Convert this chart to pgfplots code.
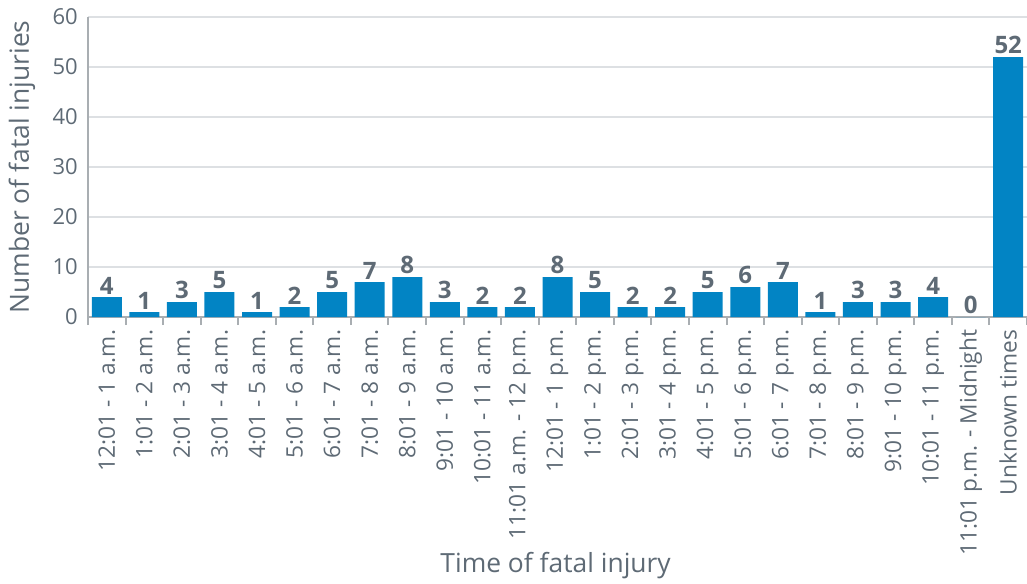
\documentclass[border=0pt]{standalone}
\usepackage{fontspec}
\setmainfont{Open Sans}
\usepackage{pgfplots}
\pgfplotsset{compat=1.18}
\definecolor{barblue}{HTML}{0284C4}
\definecolor{txtgray}{HTML}{5E6A75}
\definecolor{gridgray}{HTML}{DDE0E3}
\definecolor{axgray}{HTML}{A9AEB2}
\begin{document}
\begin{tikzpicture}
\useasboundingbox (-66pt,-199.5pt) rectangle (704.25pt,237.75pt);
\begin{axis}[
    scale only axis,
    width=704.25pt,
    height=225pt,
    ybar,
    bar width=22.5pt,
    bar shift=0pt,
    xmin=-0.5, xmax=24.5,
    ymin=0, ymax=60,
    enlargelimits=false,
    axis x line*=bottom,
    axis y line*=left,
    axis line style={axgray, line width=1.5pt},
    ytick={0,10,...,60},
    ymajorgrids,
    grid style={gridgray, line width=1.2pt},
    major tick length=0pt,
    xtick=data,
    xticklabels={12:01 - 1 a.m., 1:01 - 2 a.m., 2:01 - 3 a.m., 3:01 - 4 a.m., 4:01 - 5 a.m., 5:01 - 6 a.m., 6:01 - 7 a.m., 7:01 - 8 a.m., 8:01 - 9 a.m., 9:01 - 10 a.m., 10:01 - 11 a.m., 11:01 a.m. - 12 p.m., 12:01 - 1 p.m., 1:01 - 2 p.m., 2:01 - 3 p.m., 3:01 - 4 p.m., 4:01 - 5 p.m., 5:01 - 6 p.m., 6:01 - 7 p.m., 7:01 - 8 p.m., 8:01 - 9 p.m., 9:01 - 10 p.m., 10:01 - 11 p.m., 11:01 p.m. - Midnight, Unknown times},
    extra x ticks={-0.5,0.5,...,24.5},
    extra x tick labels={},
    extra x tick style={grid=none, major tick length=6pt, tick align=outside,
        tick style={axgray, line width=1.5pt}},
    /pgf/number format/assume math mode=true,
    tick label style={txtgray, font=\fontsize{16.5}{19}\selectfont},
    xticklabel style={yshift=-9.5pt, rotate=90, anchor=east, inner sep=0pt,
        font=\fontsize{17}{20}\selectfont},
    yticklabel style={anchor=east, inner sep=0pt, xshift=-7.5pt},
    ylabel={Number of fatal injuries},
    xlabel={Time of fatal injury},
    label style={txtgray, font=\fontsize{19.8}{23}\selectfont},
    ylabel style={at={(axis description cs:-0.0703,0.5)}, anchor=center},
    xlabel style={at={(axis description cs:0.498,-0.827)}, anchor=center},
    nodes near coords,
    every node near coord/.append style={txtgray, font=\fontsize{18}{21}\selectfont\bfseries, inner sep=2pt},
]
\addplot[fill=barblue, draw=none] coordinates {
    (0,4) (1,1) (2,3) (3,5) (4,1) (5,2) (6,5) (7,7) (8,8) (9,3)
    (10,2) (11,2) (12,8) (13,5) (14,2) (15,2) (16,5) (17,6) (18,7) (19,1)
    (20,3) (21,3) (22,4) (23,0) (24,52)
};
\end{axis}
\end{tikzpicture}
\end{document}
